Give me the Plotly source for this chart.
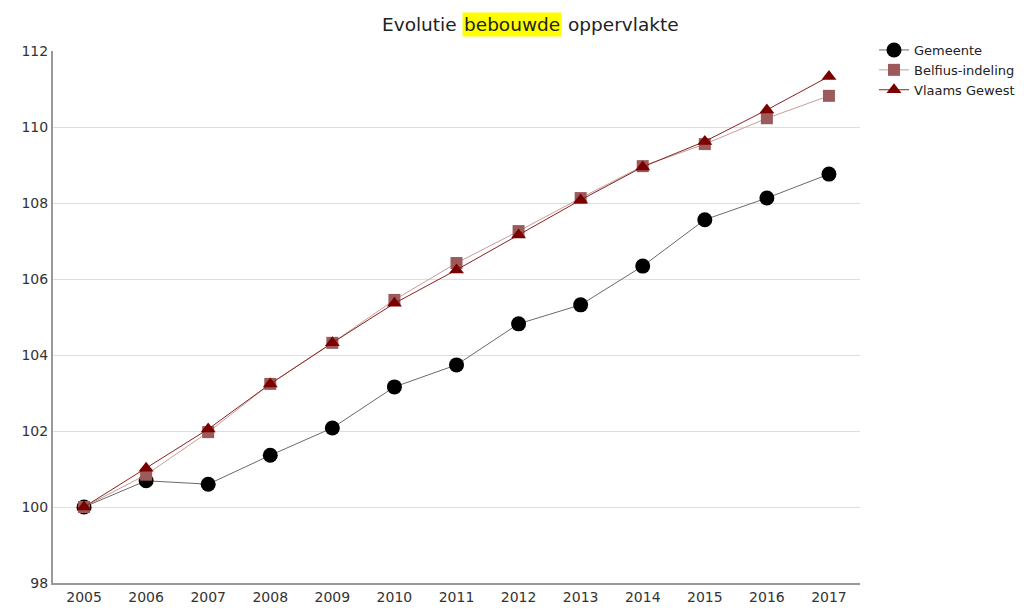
import plotly.graph_objects as go

years = [str(y) for y in range(2005, 2018)]
gemeente = [100.0, 100.69, 100.6, 101.36, 102.08, 103.16, 103.74, 104.82, 105.32, 106.34, 107.56, 108.13, 108.76]
belfius = [100.0, 100.85, 101.97, 103.24, 104.32, 105.45, 106.42, 107.26, 108.13, 108.97, 109.55, 110.23, 110.82]
vlaams = [100.0, 101.02, 102.05, 103.24, 104.32, 105.36, 106.24, 107.16, 108.08, 108.95, 109.62, 110.45, 111.33]

FONT = "DejaVu Sans"

fig = go.Figure()
fig.add_trace(go.Scatter(x=years, y=gemeente, name="Gemeente", mode="lines+markers",
                         line=dict(color="#6a6a6a", width=1),
                         marker=dict(symbol="circle", size=15, color="black")))
fig.add_trace(go.Scatter(x=years, y=belfius, name="Belfius-indeling", mode="lines+markers",
                         line=dict(color="#c99c9c", width=1),
                         marker=dict(symbol="square", size=12, color="#9c5a5a")))
fig.add_trace(go.Scatter(x=years, y=vlaams, name="Vlaams Gewest", mode="lines+markers",
                         line=dict(color="#8b2020", width=1),
                         marker=dict(symbol="triangle-up", size=13, color="#7a0000")))

# page offset (default body margin)
O = 8
W, H = 1024 - O, 610 - O
# plot area in screen pixels
L, R, T, B = 53, 860, 51, 583

def px(x):
    return (x - L) / (R - L)

def py(y):
    return (B - y) / (B - T)

title_y = py(24)
fig.add_annotation(text="Evolutie", x=px(459), y=title_y, xref="paper", yref="paper",
                   xanchor="right", yanchor="middle", showarrow=False,
                   font=dict(family=FONT, size=18.5, color="#222"))
fig.add_annotation(text="bebouwde", x=px(512), y=title_y, xref="paper", yref="paper",
                   xanchor="center", yanchor="middle", showarrow=False, bgcolor="#ffff00",
                   borderpad=1,
                   font=dict(family=FONT, size=18.5, color="#222"))
fig.add_annotation(text="oppervlakte", x=px(566), y=title_y, xref="paper", yref="paper",
                   xanchor="left", yanchor="middle", showarrow=False,
                   font=dict(family=FONT, size=18.5, color="#222"))

fig.update_layout(
    width=W, height=H,
    margin=dict(l=L - O, r=1024 - R, t=T - O, b=610 - B, autoexpand=False),
    paper_bgcolor="white", plot_bgcolor="white",
    font=dict(family=FONT, size=14, color="#333"),
    showlegend=True,
    legend=dict(x=px(874), y=py(35), xanchor="left", yanchor="top",
                font=dict(family=FONT, size=13, color="#222"),
                bgcolor="rgba(0,0,0,0)", tracegroupgap=0, itemwidth=30),
)
fig.update_xaxes(type="category", range=[-0.5, len(years) - 0.5], showgrid=False,
                 showline=True, linecolor="#999", linewidth=2,
                 ticks="", tickfont=dict(size=14, color="#333"), zeroline=False, automargin=False)
fig.update_yaxes(range=[98, 112], dtick=2, showgrid=True, gridcolor="#dddddd", gridwidth=1,
                 showline=True, linecolor="#999", linewidth=2, ticks="",
                 tickfont=dict(size=14, color="#333"), zeroline=False, automargin=False)

fig.write_html("out.html")
